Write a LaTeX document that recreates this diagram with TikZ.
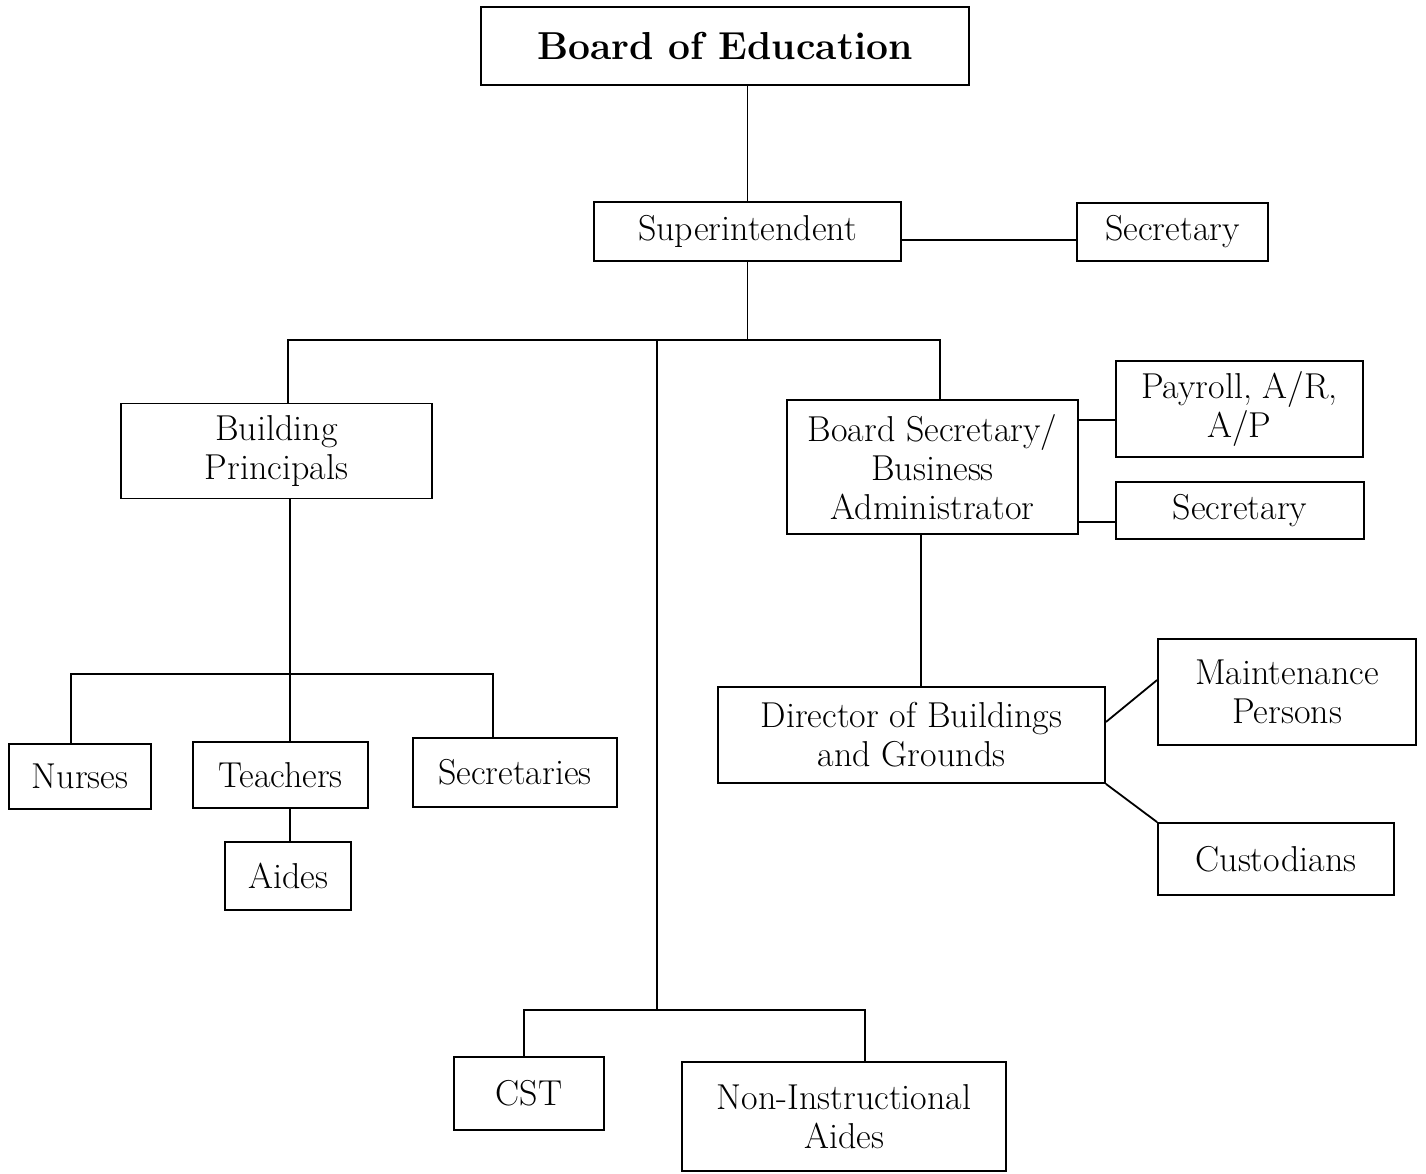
\documentclass[tikz,border=0pt]{standalone}
\begin{document}
\begin{tikzpicture}[x=1pt,y=-1pt,
  box/.style={draw, line width=1.8pt, inner sep=0pt, align=center,
              font=\fontsize{36}{39}\selectfont},
  link/.style={line width=1.8pt}]
\useasboundingbox (0,0) rectangle (1426,1173);

% boxes
\node[box, minimum width=488pt, minimum height=78pt,
      font=\fontsize{39}{44}\selectfont\bfseries] (board) at (725,46) {Board of Education};
\node[box, minimum width=307pt, minimum height=59pt] (super) at (747.5,231.5) {Superintendent};
\node[box, minimum width=191pt, minimum height=58pt] (sec1) at (1172.5,232) {Secretary};
\node[box, minimum width=311pt, minimum height=95pt] (bp) at (276.5,451) {Building\\Principals};
\node[box, minimum width=291pt, minimum height=134pt] (bsba) at (932.5,467) {Board Secretary/\\Business\\Administrator};
\node[box, minimum width=247pt, minimum height=96pt] (pay) at (1239.5,409) {Payroll, A/R,\\A/P};
\node[box, minimum width=248pt, minimum height=57pt] (sec2) at (1240,510.5) {Secretary};
\node[box, minimum width=387pt, minimum height=96pt] (dir) at (911.5,735) {Director of Buildings\\and Grounds};
\node[box, minimum width=258pt, minimum height=106pt] (maint) at (1287,692) {Maintenance\\Persons};
\node[box, minimum width=236pt, minimum height=72pt] (cust) at (1276,859) {Custodians};
\node[box, minimum width=142pt, minimum height=65pt] (nurses) at (80,776.5) {Nurses};
\node[box, minimum width=175pt, minimum height=66pt] (teach) at (280.5,775) {Teachers};
\node[box, minimum width=204pt, minimum height=69pt] (secs) at (515,772.5) {Secretaries};
\node[box, minimum width=126pt, minimum height=68pt] (aides) at (288,876) {Aides};
\node[box, minimum width=150pt, minimum height=73pt] (cst) at (529,1093.5) {CST};
\node[box, minimum width=324pt, minimum height=109pt] (nia) at (844,1116.5) {Non-Instructional\\Aides};

% junction points of the connector bars
\coordinate (bandL) at (288,340);
\coordinate (bandR) at (940,340);
\coordinate (mid) at (657,340);
\coordinate (midlow) at (657,1010);
\coordinate (lowL) at (524,1010);
\coordinate (lowR) at (865,1010);
\coordinate (barL) at (71,674);
\coordinate (barR) at (493,674);
\coordinate (bpdrop) at (290,674);
\coordinate (bsdrop) at (921,600);

% connectors
\draw[link] (board.south -| super.north) -- (super.north);
\draw[link] ([yshift=-8.5pt]super.east) -- ([yshift=-8pt]sec1.west);
\draw[link] (super.south) -- (super.south |- bandR);
\draw[link] (bandL |- bp.north) -- (bandL) -- (bandR) -- (bandR |- bsba.north);
\draw[link] (mid) -- (midlow);
\draw[link] (lowL |- cst.north) -- (lowL) -- (lowR) -- (lowR |- nia.north);
\draw[link] ([yshift=47pt]bsba.east) -- ([yshift=-11pt]pay.west);
\draw[link] ([yshift=-55pt]bsba.east) -- ([yshift=-11.5pt]sec2.west);
\draw[link] (bsba.south -| bsdrop) -- (dir.north -| bsdrop);
\draw[link] ([yshift=13pt]dir.east) -- ([yshift=12pt]maint.west);
\draw[link] (dir.south east) -- (cust.north west);
\draw[link] (bp.south -| bpdrop) -- (teach.north -| bpdrop);
\draw[link] (nurses.north -| barL) -- (barL) -- (barR) -- (secs.north -| barR);
\draw[link] (teach.south -| bpdrop) -- (aides.north -| bpdrop);
\end{tikzpicture}
\end{document}
